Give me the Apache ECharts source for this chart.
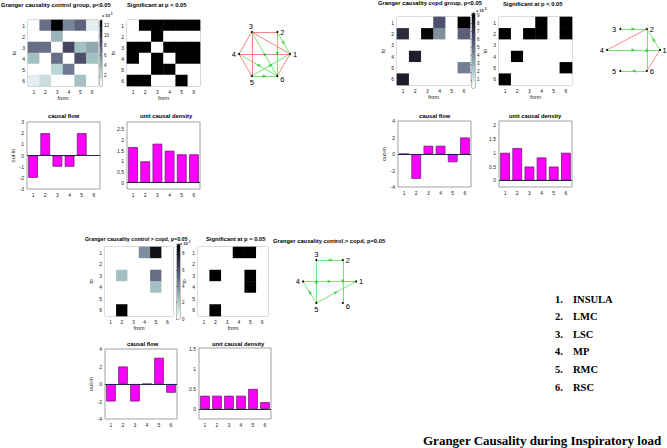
<!DOCTYPE html>
<html><head><meta charset="utf-8">
<script src="https://cdn.jsdelivr.net/npm/echarts@6/dist/echarts.min.js"></script>
<style>html,body{margin:0;padding:0;background:#fff}#c{width:667px;height:448px}</style>
</head><body><div id="c"></div>
<script>
// ---------------- DATA ----------------
const nodeLabels = ['1','2','3','4','5','6'];
const regionNames = ['INSULA','LMC','LSC','MP','RMC','RSC'];

// Granger causality magnitudes (rows = "to", cols = "from"), units x10^-3
const gcControl = [
  [0, 7, 13, 6, 7.5, 1],
  [0, 0, 4, 0, 0, 0],
  [7, 7, 0, 9, 3.5, 4.5],
  [3.5, 0, 7, 0, 8.5, 3.5],
  [0, 0, 2.5, 6.5, 0, 0],
  [1, 2, 0, 0, 3.5, 0]
];
const sigControl = [
  [0,1,1,1,1,1],
  [0,0,1,0,0,0],
  [1,1,0,1,1,1],
  [1,0,1,0,1,1],
  [0,0,1,1,0,0],
  [1,1,0,0,1,0]
];
const flowControl = [-2, 2, -1, -1, 2, 0];
const densityControl = [1.67, 1.0, 1.83, 1.5, 1.33, 1.33];

const gcCopd = [
  [0, 0, 0, 6, 0, 9.3],
  [7.5, 0, 9, 4, 0, 5.5],
  [0, 0, 0, 0, 0, 0],
  [0, 8, 0, 0, 0, 0],
  [0, 0, 0, 0, 0, 4.5],
  [8, 0, 0, 0, 0, 0]
];
const sigCopd = [
  [0,0,0,1,0,1],
  [1,0,1,1,0,1],
  [0,0,0,0,0,0],
  [0,1,0,0,0,0],
  [0,0,0,0,0,1],
  [1,0,0,0,0,0]
];
const flowCopd = [0, -3, 1, 1, -1, 2];
const densityCopd = [1.0, 1.17, 0.5, 0.83, 0.5, 1.0];

const gcDiff = [
  [0, 0, 0, 4, 8.5, 0],
  [0, 0, 0, 0, 0, 0],
  [0, 2.5, 0, 0, 5, 0],
  [0, 0, 0, 0, 2.5, 0],
  [0, 0, 0, 0, 0, 0],
  [0, 9.2, 0, 0, 0, 0]
];
const sigDiff = [
  [0,0,0,1,1,0],
  [0,0,0,0,0,0],
  [0,1,0,0,1,0],
  [0,0,0,0,1,0],
  [0,0,0,0,0,0],
  [0,1,0,0,0,0]
];
const flowDiff = [-2, 2, -2, 0, 3, -1];
const densityDiff = [0.33, 0.33, 0.33, 0.33, 0.5, 0.17];

// colour-bar ranges and tick labels
const cbMaxControl = 13, cbTicksControl = [2, 4, 6, 8, 10, 12];
const cbMaxCopd = 9.3, cbTicksCopd = [1, 2, 3, 4, 5, 6, 7, 8, 9];
const cbMaxDiff = 9.2, cbTicksDiff = [0, 2, 4, 6, 8];
// bar axes ranges and tick labels
const flowTicksControl = [-3, -2, -1, 0, 1, 2, 3];
const flowTicksCopd = [-4, -2, 0, 2, 4];
const flowTicksDiff = [-4, -2, 0, 2, 4];
const densTicksControl = [0, 0.5, 1, 1.5, 2, 2.5];
const densTicksCopd = [0, 0.5, 1, 1.5, 2];
const densTicksDiff = [0, 0.5, 1, 1.5];

// ---------------- LAYOUT / STYLE ----------------
const FONT = 'Liberation Sans';
const boneR = ['#ffffff','#d3e3e3','#a7c7c7','#8ba1ab','#707a8f','#545474','#38384d','#1c1c27','#000000'];
const L = {
  hm:  [{left:28,top:20,width:70,height:66},{left:397,top:17,width:73,height:68},{left:105,top:247,width:68,height:69}],
  sig: [{left:127,top:20,width:73,height:66},{left:499,top:17,width:73,height:68},{left:198,top:247,width:70,height:69}],
  cb:  [{left:100,top:20,width:2,height:66},{left:472,top:13,width:3,height:75},{left:177,top:244,width:3,height:75}],
  flow:[{left:27,top:122,width:73,height:67},{left:398,top:121,width:73,height:66},{left:105,top:349,width:72,height:70}],
  dens:[{left:127,top:122,width:73,height:67},{left:499,top:121,width:73,height:66},{left:199,top:348,width:72,height:71}],
  net: [{left:239,top:32,width:51,height:44},{left:607,top:29,width:53,height:42},{left:303,top:260,width:53,height:43}]
};
const netLabelOpts = [
  [ {position:'right', distance:2}, {position:'right', distance:2}, {position:'top', distance:1, offset:[-1,0]},
    {position:'left', distance:2}, {position:'bottom', distance:1}, {position:'right', distance:2, offset:[0,3]} ],
  [ {position:'right', distance:1.5}, {position:'right', distance:2}, {position:'left', distance:3},
    {position:'left', distance:2}, {position:'left', distance:3}, {position:'right', distance:2} ],
  [ {position:'right', distance:2}, {position:'right', distance:2}, {position:'top', distance:1},
    {position:'left', distance:2}, {position:'bottom', distance:1}, {position:'right', distance:2, offset:[0,3]} ]
];

const grids=[], xAxes=[], yAxes=[], series=[], visualMaps=[];
const tickStyle = {inside:true, length:2, lineStyle:{color:'#777', width:0.6}};
const lbl = {fontSize:5, color:'#222', fontFamily:FONT, margin:3};
const nameStyle = {fontSize:5.5, color:'#222', fontFamily:FONT};

function addGrid(box, extra){
  grids.push(Object.assign({show:true, borderColor:'#8c8c8c', borderWidth:0.8, backgroundColor:'transparent', containLabel:false}, box, extra||{}));
  return grids.length-1;
}
function matrixData(m){ const out=[]; m.forEach((row,r)=>row.forEach((v,c)=>out.push([c,r,v]))); return out; }

function catX(gi, name){
  xAxes.push({gridIndex:gi, type:'category', data:nodeLabels, name:name||'', nameLocation:'middle', nameGap:8, nameTextStyle:nameStyle,
    axisLine:{show:false}, axisTick:Object.assign({alignWithLabel:true}, tickStyle), axisLabel:lbl, splitArea:{show:false}, splitLine:{show:false}});
}

function heatPanel(box, matrix, vmax, cbBox, cbTicks, isSig){
  const gi = addGrid(box);
  catX(gi, 'from');
  yAxes.push({gridIndex:gi, type:'category', data:nodeLabels, inverse:true, name:'to', nameLocation:'middle', nameGap:11, nameRotate:90, nameTextStyle:nameStyle,
    axisLine:{show:false}, axisTick:Object.assign({alignWithLabel:true}, tickStyle), axisLabel:lbl, splitArea:{show:false}});
  series.push({type:'heatmap', xAxisIndex:gi, yAxisIndex:gi, data:matrixData(matrix), itemStyle:{borderWidth:0}, emphasis:{disabled:true}, silent:true});
  const si = series.length-1;
  if (isSig) {
    visualMaps.push({type:'continuous', seriesIndex:si, min:0, max:1, inRange:{color:['#ffffff','#000000']}, show:false});
  } else {
    visualMaps.push({type:'continuous', seriesIndex:si, min:0, max:vmax, inRange:{color:boneR}, show:true, calculable:false,
      orient:'vertical', left:cbBox.left, top:cbBox.top, itemWidth:cbBox.width, itemHeight:cbBox.height, padding:0, hoverLink:false});
    const ci = addGrid(cbBox, {borderColor:'#333', borderWidth:0.6});
    xAxes.push({gridIndex:ci, type:'value', min:0, max:1, show:false});
    yAxes.push({gridIndex:ci, type:'value', position:'right', min:0, max:vmax, axisLine:{show:false}, splitLine:{show:false},
      axisTick:{show:true, inside:true, length:1, customValues:cbTicks, lineStyle:{color:'#333', width:0.5}},
      axisLabel:{fontSize:4.5, color:'#222', fontFamily:FONT, margin:2, customValues:cbTicks}});
  }
}

function barPanel(box, values, ymin, ymax, ticks, yname){
  const gi = addGrid(box);
  catX(gi, '');
  yAxes.push({gridIndex:gi, type:'value', min:ymin, max:ymax, name:yname||'', nameLocation:'middle', nameGap:11, nameRotate:90, nameTextStyle:nameStyle,
    axisLine:{show:false}, splitLine:{show:false},
    axisTick:Object.assign({customValues:ticks}, tickStyle), axisLabel:Object.assign({customValues:ticks}, lbl)});
  series.push({type:'bar', xAxisIndex:gi, yAxisIndex:gi, data:values, barCategoryGap:'20%', silent:true,
    itemStyle:{color:'#ff00ff', borderColor:'#6b1f6b', borderWidth:0.8},
    markLine:{silent:true, symbol:'none', label:{show:false}, lineStyle:{color:'#22224a', width:1, type:'solid'}, data:[{yAxis:0}], animation:false}});
}

// network: node k at angle k*60deg on unit circle; edges from significance matrix (rows=to, cols=from)
const SIN60 = Math.sin(Math.PI/3);
function netPanel(box, sig, labelOpt){
  const gi = addGrid(box, {show:false});
  xAxes.push({gridIndex:gi, type:'value', min:-1, max:1, show:false});
  yAxes.push({gridIndex:gi, type:'value', min:-SIN60, max:SIN60, show:false});
  const pos = nodeLabels.map((n,k)=>[Math.cos(k*Math.PI/3), Math.sin(k*Math.PI/3)]);
  const nodes = nodeLabels.map((n,k)=>({name:n, value:pos[k], label:labelOpt[k]}));
  const links=[], arrows=[];
  const sx = box.width/2, sy = box.height/(2*SIN60);
  for (let i=0;i<6;i++) for (let j=i+1;j<6;j++){
    const ij = sig[j][i], ji = sig[i][j];
    if (ij && ji) links.push({source:nodeLabels[i], target:nodeLabels[j], lineStyle:{color:'#f06a6a'}});
    else if (ij || ji){
      const a = ij ? i : j, b = ij ? j : i;
      links.push({source:nodeLabels[a], target:nodeLabels[b], lineStyle:{color:'#52e052'}});
      const mx = (pos[a][0]+pos[b][0])/2, my = (pos[a][1]+pos[b][1])/2;
      const ang = Math.atan2((pos[b][1]-pos[a][1])*sy, (pos[b][0]-pos[a][0])*sx)*180/Math.PI;
      arrows.push({value:[mx,my], symbolRotate:ang-90});
    }
  }
  series.push({type:'graph', coordinateSystem:'cartesian2d', xAxisIndex:gi, yAxisIndex:gi, data:nodes, links:links,
    symbol:'circle', symbolSize:2, itemStyle:{color:'#000'}, lineStyle:{width:0.8, opacity:1}, silent:true,
    label:{show:true, formatter:'{b}', fontSize:7.5, color:'#000', fontFamily:FONT}, emphasis:{disabled:true}, z:3});
  series.push({type:'scatter', xAxisIndex:gi, yAxisIndex:gi, data:arrows, symbol:'triangle', symbolSize:[3.5,4],
    itemStyle:{color:'#2ecc2e'}, silent:true, z:4});
}

// build panels
heatPanel(L.hm[0], gcControl, cbMaxControl, L.cb[0], cbTicksControl, false);
heatPanel(L.sig[0], sigControl, 1, null, null, true);
barPanel(L.flow[0], flowControl, -3, 3, flowTicksControl, 'out-in');
barPanel(L.dens[0], densityControl, -0.3, 2.85, densTicksControl, '');
netPanel(L.net[0], sigControl, netLabelOpts[0]);

heatPanel(L.hm[1], gcCopd, cbMaxCopd, L.cb[1], cbTicksCopd, false);
heatPanel(L.sig[1], sigCopd, 1, null, null, true);
barPanel(L.flow[1], flowCopd, -4, 4, flowTicksCopd, 'out-in');
barPanel(L.dens[1], densityCopd, -0.24, 2.15, densTicksCopd, '');
netPanel(L.net[1], sigCopd, netLabelOpts[1]);

heatPanel(L.hm[2], gcDiff, cbMaxDiff, L.cb[2], cbTicksDiff, false);
heatPanel(L.sig[2], sigDiff, 1, null, null, true);
barPanel(L.flow[2], flowDiff, -4, 4, flowTicksDiff, 'out-in');
barPanel(L.dens[2], densityDiff, -0.25, 1.52, densTicksDiff, '');
netPanel(L.net[2], sigDiff, netLabelOpts[2]);

const tStyle = {fontSize:5.8, fontWeight:'bold', color:'#000', fontFamily:FONT};
function T(text, left, top, fs){ return {text:text, left:left, top:top, padding:0, textStyle:Object.assign({}, tStyle, fs ? {fontSize:fs} : {})}; }
const expRich = {a:{fontSize:4, fontFamily:FONT, color:'#222'}, b:{fontSize:3, fontFamily:FONT, color:'#222', verticalAlign:'top', padding:[0,0,3,0]}};
function E(left, top){ return {text:'{a|x 10}{b|-3}', left:left, top:top, padding:0, textStyle:{rich:expRich}}; }

const titles = [
  T('Granger causality control group, p<0.05', 1, 2),
  T('Significant at p < 0.05', 127, 2),
  T('causal flow', 48, 113),
  T('unit causal density', 140, 113),
  T('Granger causality copd group, p<0.05', 378, 0),
  T('Significant at p < 0.05', 503, 1),
  T('causal flow', 419, 113),
  T('unit causal density', 509, 113),
  T('Granger causality control > copd, p=0.05', 85, 236, 5.3),
  T('Significant at p = 0.05', 206, 236),
  T('Granger causality control > copd, p=0.05', 273, 238),
  T('causal flow', 127, 341),
  T('unit causal density', 212, 341),
  E(102, 12), E(476, 7), E(180, 240)
];

const graphic = [];
regionNames.forEach((n,i)=>{
  graphic.push({type:'text', x:555, y:299+i*17.6, style:{text:(i+1)+'.', font:'bold 10.5px "Liberation Serif"', fill:'#000', verticalAlign:'middle'}});
  graphic.push({type:'text', x:573, y:299+i*17.6, style:{text:n, font:'bold 10.5px "Liberation Serif"', fill:'#000', verticalAlign:'middle'}});
});
graphic.push({type:'text', x:423, y:440, style:{text:'Granger Causality during Inspiratory load', font:'bold 13px "Liberation Serif"', fill:'#000', verticalAlign:'middle'}});

const chart = echarts.init(document.getElementById('c'), null, {renderer:'svg', width:667, height:448});
chart.setOption({
  animation:false,
  backgroundColor:'#ffffff',
  title: titles,
  grid: grids, xAxis: xAxes, yAxis: yAxes,
  visualMap: visualMaps,
  series: series,
  graphic: graphic
});
</script></body></html>
